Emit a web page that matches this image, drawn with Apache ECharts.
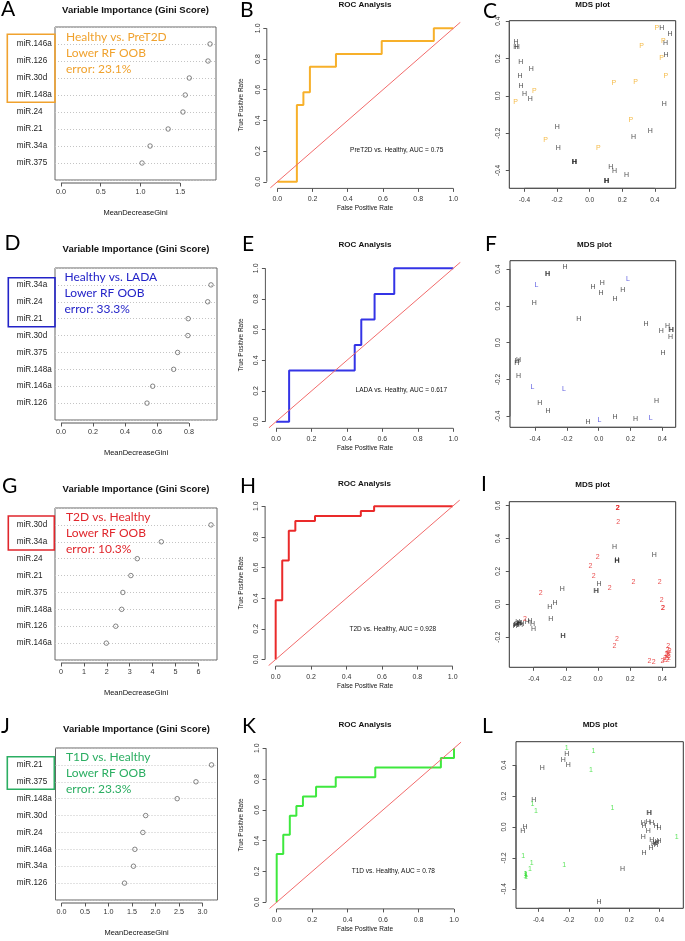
<!DOCTYPE html>
<html><head><meta charset="utf-8">
<script src="https://cdn.jsdelivr.net/npm/echarts@6/dist/echarts.min.js"></script>
<style>html,body{margin:0;padding:0;background:#fff}#c{width:685px;height:941px}</style>
</head><body><div id="c"></div>
<script>
// ================= DATA =================
// Variable importance (MeanDecreaseGini)
const giniA_labels = ['miR.146a','miR.126','miR.30d','miR.148a','miR.24','miR.21','miR.34a','miR.375'];
const giniA_values = [1.875,1.85,1.614,1.563,1.534,1.348,1.121,1.02];
const giniA_ticks  = [0,0.5,1.0,1.5];
const giniD_labels = ['miR.34a','miR.24','miR.21','miR.30d','miR.375','miR.148a','miR.146a','miR.126'];
const giniD_values = [0.9375,0.917,0.795,0.793,0.729,0.704,0.573,0.5375];
const giniD_ticks  = [0,0.2,0.4,0.6,0.8];
const giniG_labels = ['miR.30d','miR.34a','miR.24','miR.21','miR.375','miR.148a','miR.126','miR.146a'];
const giniG_values = [6.55,4.38,3.33,3.05,2.70,2.65,2.39,1.98];
const giniG_ticks  = [0,1,2,3,4,5,6];
const giniJ_labels = ['miR.21','miR.375','miR.148a','miR.30d','miR.24','miR.146a','miR.34a','miR.126'];
const giniJ_values = [3.19,2.86,2.46,1.79,1.73,1.56,1.53,1.34];
const giniJ_ticks  = [0,0.5,1.0,1.5,2.0,2.5,3.0];

// ROC curves (vertices)
const rocB_fpr = [0,0.111,0.111,0.148,0.148,0.185,0.185,0.333,0.333,0.593,0.593,0.889,0.889,1.0];
const rocB_tpr = [0,0,0.5,0.5,0.583,0.583,0.75,0.75,0.833,0.833,0.917,0.917,1.0,1.0];
const rocE_fpr = [0,0.074,0.074,0.444,0.444,0.481,0.481,0.556,0.556,0.667,0.667,1.0];
const rocE_tpr = [0,0,0.333,0.333,0.5,0.5,0.667,0.667,0.833,0.833,1.0,1.0];
const rocH_fpr = [0,0,0.037,0.037,0.074,0.074,0.111,0.111,0.222,0.222,0.481,0.481,0.556,0.556,1.0];
const rocH_tpr = [0,0.387,0.387,0.645,0.645,0.839,0.839,0.903,0.903,0.935,0.935,0.968,0.968,1.0,1.0];
const rocK_fpr = [0,0,0.037,0.037,0.074,0.074,0.111,0.111,0.148,0.148,0.222,0.222,0.333,0.333,0.556,0.556,0.926,0.926,1.0,1.0];
const rocK_tpr = [0,0.3125,0.3125,0.4375,0.4375,0.5625,0.5625,0.625,0.625,0.6875,0.6875,0.75,0.75,0.8125,0.8125,0.875,0.875,0.9375,0.9375,1.0];
const rocTicks = [0,0.2,0.4,0.6,0.8,1.0];
const rocRange = [-0.04,1.04];
const aucTexts = ['PreT2D vs. Healthy, AUC = 0.75','LADA vs. Healthy, AUC = 0.617','T2D vs. Healthy, AUC = 0.928','T1D vs. Healthy, AUC = 0.78'];

// MDS coordinates
const mdsC_Hx = [-0.452,-0.454,-0.444,-0.423,-0.358,-0.427,-0.421,-0.399,-0.364,-0.198,-0.192,-0.096,-0.090,0.129,0.153,0.102,0.106,0.227,0.270,0.372,0.458,0.442,0.493,0.466,0.468,-0.094,0.104];
const mdsC_Hy = [0.289,0.263,0.263,0.179,0.141,0.105,0.054,0.007,-0.018,-0.166,-0.279,-0.357,-0.355,-0.384,-0.405,-0.457,-0.457,-0.423,-0.223,-0.189,-0.045,0.366,0.330,0.284,0.218,-0.357,-0.457];
const mdsC_Px = [-0.339,-0.454,-0.270,0.053,0.252,0.149,0.282,0.319,0.413,0.452,0.442,0.468];
const mdsC_Py = [0.027,-0.032,-0.238,-0.282,-0.132,0.071,0.075,0.266,0.366,0.296,0.204,0.105];

const mdsF_Hx = [-0.212,-0.323,-0.319,-0.405,-0.036,0.023,0.015,0.151,0.103,-0.126,0.298,0.432,0.394,0.453,0.457,0.451,0.405,-0.505,-0.516,-0.505,-0.371,-0.319,-0.067,0.103,0.231,0.363,-0.512];
const mdsF_Hy = [0.410,0.372,0.372,0.216,0.305,0.327,0.272,0.285,0.238,0.131,0.100,0.093,0.065,0.069,0.069,0.033,-0.054,-0.094,-0.109,-0.180,-0.327,-0.372,-0.430,-0.406,-0.414,-0.319,-0.102];
const mdsF_Lx = [-0.392,0.184,-0.417,-0.218,0.004,0.327];
const mdsF_Ly = [0.312,0.346,-0.243,-0.254,-0.421,-0.408];

const mdsI_Tx = [0.120,0.124,0.122,0.126,-0.002,-0.048,-0.027,0.073,0.220,0.383,0.396,0.402,0.406,-0.356,-0.454,0.118,0.102,0.319,0.346,0.400,0.437,0.433,0.425,0.437,0.417,0.433,0.441,0.429,0.446,0.413,0.441];
const mdsI_Ty = [0.582,0.582,0.586,0.501,0.289,0.232,0.172,0.097,0.137,0.137,0.026,-0.024,-0.024,0.071,-0.091,-0.210,-0.257,-0.343,-0.349,-0.343,-0.253,-0.277,-0.303,-0.317,-0.327,-0.337,-0.297,-0.311,-0.285,-0.337,-0.327];
const mdsI_Hx = [0.102,0.350,0.116,0.120,0.118,0.006,-0.014,-0.010,-0.222,-0.267,-0.301,-0.294,-0.220,-0.216,-0.512,-0.508,-0.491,-0.487,-0.475,-0.423,-0.408,-0.402,-0.516,-0.500,-0.505,-0.482,-0.440];
const mdsI_Hy = [0.349,0.299,0.265,0.265,0.268,0.121,0.081,0.081,0.093,0.006,-0.016,-0.091,-0.196,-0.196,-0.129,-0.129,-0.115,-0.115,-0.121,-0.105,-0.119,-0.149,-0.135,-0.111,-0.123,-0.125,-0.107];

const mdsL_Ox = [-0.214,-0.037,-0.053,0.088,-0.441,-0.417,0.513,-0.502,-0.445,-0.456,-0.487,-0.483,-0.483,-0.231,-0.480,-0.489];
const mdsL_Oy = [0.509,0.494,0.369,0.125,0.147,0.106,-0.063,-0.188,-0.235,-0.274,-0.304,-0.304,-0.321,-0.248,-0.313,-0.315];
const mdsL_Hx = [-0.214,-0.236,-0.203,-0.375,-0.432,-0.489,-0.505,0.329,0.333,0.293,0.326,0.348,0.298,0.377,0.397,0.326,0.293,0.348,0.370,0.397,0.377,0.344,0.298,0.156,0.000,0.361,0.383];
const mdsL_Hy = [0.470,0.433,0.403,0.380,0.177,-0.002,-0.026,0.088,0.088,0.024,0.030,0.024,0.006,0.006,-0.009,-0.026,-0.067,-0.084,-0.106,-0.091,-0.119,-0.138,-0.166,-0.274,-0.487,-0.112,-0.100];
const mdsTicks = [-0.4,-0.2,0.0,0.2,0.4];
const mdsTicksI = [-0.2,0.0,0.2,0.4,0.6];

// ================= BUILD =================
const FONT = '"Liberation Sans", Arial, sans-serif';
const CAL = 'Lato, "Open Sans", sans-serif';
const option = {animation:false, backgroundColor:'#fff', grid:[], xAxis:[], yAxis:[], series:[], graphic:[]};

function addGrid(r, border, bc){
  option.grid.push({left:r[0], top:r[1], width:r[2], height:r[3], show:!!border, borderColor:bc||'#555', borderWidth:1, backgroundColor:'rgba(0,0,0,0)'});
  return option.grid.length-1;
}
function hiddenAxes(gi, xr, yr){
  option.xAxis.push({gridIndex:gi, type:'value', min:xr[0], max:xr[1], show:false});
  option.yAxis.push({gridIndex:gi, type:'value', min:yr[0], max:yr[1], show:false});
}
function tickCfg(ticks){return {show:true, customValues:ticks, length:3.5, lineStyle:{color:'#555', width:1}};}
function xStrip(r, off, range, ticks, fmt, fs, margin){
  const gi = addGrid([r[0], r[1]+r[3]+off-1, r[2], 1], false);
  option.xAxis.push({gridIndex:gi, type:'value', min:range[0], max:range[1], position:'bottom',
    axisLine:{show:false}, splitLine:{show:false}, axisTick:tickCfg(ticks),
    axisLabel:{show:true, customValues:ticks, formatter:fmt, fontSize:fs, margin:margin, color:'#333', fontFamily:FONT}});
  option.yAxis.push({gridIndex:gi, type:'value', min:0, max:1, show:false});
  option.series.push({type:'line', xAxisIndex:gi, yAxisIndex:gi, clip:false, silent:true, symbol:'none',
    lineStyle:{color:'#555', width:1}, data:[[ticks[0],0],[ticks[ticks.length-1],0]]});
}
function yStrip(r, off, range, ticks, fmt, fs, margin){
  const gi = addGrid([r[0]-off, r[1], 1, r[3]], false);
  option.xAxis.push({gridIndex:gi, type:'value', min:0, max:1, show:false});
  option.yAxis.push({gridIndex:gi, type:'value', min:range[0], max:range[1], position:'left',
    axisLine:{show:false}, splitLine:{show:false}, axisTick:tickCfg(ticks),
    axisLabel:{show:true, customValues:ticks, formatter:fmt, fontSize:fs, margin:margin, rotate:90, color:'#333', fontFamily:FONT}});
  option.series.push({type:'line', xAxisIndex:gi, yAxisIndex:gi, clip:false, silent:true, symbol:'none',
    lineStyle:{color:'#555', width:1}, data:[[0,ticks[0]],[0,ticks[ticks.length-1]]]});
}
function txt(x, y, text, o){
  o = o || {};
  option.graphic.push({type:'text', x:x, y:y, rotation:o.rot||0, silent:true, z:10,
    style:{text:text, fill:o.color||'#111', fontSize:o.fs||8, fontFamily:o.ff||FONT, fontWeight:o.fw||'normal',
      align:o.align||'center', verticalAlign:'middle', lineHeight:o.lh||undefined}});
}
function rect(x,y,w,h,color){
  option.graphic.push({type:'rect', silent:true, z:10, shape:{x:x,y:y,width:w,height:h},
    style:{fill:'none', stroke:color, lineWidth:1.6}});
}
const f1 = v => Number(v).toFixed(1);
const f0 = v => Number(v).toFixed(0);

// ---- dot charts ----
function dotPanel(p){
  const mx = Math.max.apply(null, p.values);
  const xr = [-0.04*mx, 1.04*mx];
  const n = p.labels.length;
  const gi = addGrid(p.rect, true, '#666');
  option.xAxis.push({gridIndex:gi, type:'value', min:xr[0], max:xr[1], show:false});
  option.yAxis.push({gridIndex:gi, type:'value', min:0, max:n+1, interval:1,
    axisLine:{show:false}, axisTick:{show:false},
    axisLabel:{align:'left', margin:p.rect[0]-16.7, fontSize:8.2, color:'#222', fontFamily:FONT,
      formatter:v => (v>=1 && v<=n) ? p.labels[n-v] : ''},
    splitLine:{show:true, lineStyle:{type:[1,2], color:'#c4c4c4', width:1}}});
  option.series.push({type:'scatter', xAxisIndex:gi, yAxisIndex:gi, silent:true, symbol:'circle', symbolSize:4.5,
    itemStyle:{color:'rgba(0,0,0,0)', borderColor:'#444', borderWidth:0.8},
    data:p.values.map((v,i)=>[v, n-i])});
  xStrip(p.rect, 3, xr, p.ticks, p.fmt, 7.2, 5.5);
  const cx = p.rect[0] + p.rect[2]/2;
  txt(cx, p.titleY, 'Variable Importance (Gini Score)', {fs:9.5, fw:'bold'});
  txt(cx, p.rect[1]+p.rect[3]+33, 'MeanDecreaseGini', {fs:7.5});
  rect(p.box[0], p.box[1], p.box[2], p.box[3], p.color);
  txt(p.noteX, p.noteY, p.note, {fs:12, ff:CAL, color:p.color, align:'left', lh:16});
}
dotPanel({rect:[55,27,161,153], labels:giniA_labels, values:giniA_values, ticks:giniA_ticks, fmt:f1, titleY:10,
  box:[7.3,34.3,47.7,68], color:'#f0a22e', noteX:66, noteY:52.7, note:'Healthy vs. PreT2D\nLower RF OOB\nerror: 23.1%'});
dotPanel({rect:[55,268,162,152], labels:giniD_labels, values:giniD_values, ticks:giniD_ticks, fmt:f1, titleY:249,
  box:[8.3,277.7,46.7,49], color:'#2323c8', noteX:64.5, noteY:293.3, note:'Healthy vs. LADA\nLower RF OOB\nerror: 33.3%'});
dotPanel({rect:[55,508,162,152], labels:giniG_labels, values:giniG_values, ticks:giniG_ticks, fmt:f0, titleY:489,
  box:[8.3,516,46,34], color:'#e0262c', noteX:66, noteY:533.3, note:'T2D vs. Healthy\nLower RF OOB\nerror: 10.3%'});
dotPanel({rect:[55.5,748,162,152], labels:giniJ_labels, values:giniJ_values, ticks:giniJ_ticks, fmt:f1, titleY:729,
  box:[7.3,756.7,47,32.6], color:'#2bae62', noteX:66, noteY:773.3, note:'T1D vs. Healthy\nLower RF OOB\nerror: 23.3%'});

// ---- ROC ----
function rocPanel(p){
  const gi = addGrid(p.rect, false);
  hiddenAxes(gi, rocRange, rocRange);
  option.series.push({type:'line', xAxisIndex:gi, yAxisIndex:gi, silent:true, symbol:'none',
    lineStyle:{color:p.color, width:2}, data:p.fpr.map((f,i)=>[f, p.tpr[i]])});
  option.series.push({type:'line', xAxisIndex:gi, yAxisIndex:gi, silent:true, symbol:'none',
    lineStyle:{color:'#f26b6b', width:1}, data:[[rocRange[0],rocRange[0]],[rocRange[1],rocRange[1]]]});
  xStrip(p.rect, 0.5, rocRange, rocTicks, f1, 7, 7.5);
  yStrip(p.rect, 3.5, rocRange, rocTicks, f1, 7, 5.5);
  txt(p.titleX, p.titleY, 'ROC Analysis', {fs:8, fw:'bold'});
  txt(p.auc[0], p.auc[1], p.aucText, {fs:6.5});
  txt(365, p.rect[1]+p.rect[3]+20.5, 'False Positive Rate', {fs:6.5});
  txt(241.5, p.tprY, 'True Positive Rate', {fs:6.5, rot:Math.PI/2});
}
rocPanel({rect:[270.3,22.2,190.1,165.7], fpr:rocB_fpr, tpr:rocB_tpr, color:'#f7b02a', titleX:365, titleY:5, auc:[396.7,150], aucText:aucTexts[0], tprY:105});
rocPanel({rect:[268.9,262.2,191.5,165.6], fpr:rocE_fpr, tpr:rocE_tpr, color:'#3434e6', titleX:365, titleY:245, auc:[401.3,390.7], aucText:aucTexts[1], tprY:345});
rocPanel({rect:[268.6,500,191.2,165.6], fpr:rocH_fpr, tpr:rocH_tpr, color:'#ea2a2a', titleX:364.5, titleY:484, auc:[392.8,629], aucText:aucTexts[2], tprY:583});
rocPanel({rect:[269.6,742.1,191.5,166.3], fpr:rocK_fpr, tpr:rocK_tpr, color:'#3ee83e', titleX:365, titleY:725, auc:[393.3,871.7], aucText:aucTexts[3], tprY:825});

// ---- MDS ----
function mdsPanel(p){
  const gi = addGrid(p.rect, true, '#333');
  hiddenAxes(gi, p.xr, p.yr);
  p.groups.forEach(g => {
    option.series.push({type:'scatter', xAxisIndex:gi, yAxisIndex:gi, silent:true, symbol:'circle', symbolSize:2,
      itemStyle:{color:'rgba(0,0,0,0)'},
      label:{show:true, position:'inside', formatter:g.lab, color:g.color, fontSize:7, fontFamily:FONT},
      data:g.x.map((x,i)=>[x, g.y[i]])});
  });
  xStrip(p.rect, 0, p.xr, p.xt, f1, 6.5, 8);
  yStrip(p.rect, 0, p.yr, p.yt, f1, 6.5, 8);
  txt(p.titleX, p.titleY, 'MDS plot', {fs:8, fw:'bold'});
}
mdsPanel({rect:[509.3,20.7,166.4,167.6], xr:[-0.493,0.528], yr:[-0.496,0.403], xt:mdsTicks, yt:mdsTicks, titleX:592.7, titleY:5,
  groups:[{x:mdsC_Hx,y:mdsC_Hy,lab:'H',color:'#222'},{x:mdsC_Px,y:mdsC_Py,lab:'P',color:'#f2aa1c'}]});
mdsPanel({rect:[510,260.7,165.7,166.6], xr:[-0.558,0.484], yr:[-0.460,0.446], xt:mdsTicks, yt:mdsTicks, titleX:594.3, titleY:245,
  groups:[{x:mdsF_Hx,y:mdsF_Hy,lab:'H',color:'#222'},{x:mdsF_Lx,y:mdsF_Ly,lab:'L',color:'#3535d8'}]});
mdsPanel({rect:[509.3,501.7,166.4,165.6], xr:[-0.552,0.483], yr:[-0.383,0.623], xt:mdsTicks, yt:mdsTicksI, titleX:592.7, titleY:485,
  groups:[{x:mdsI_Hx,y:mdsI_Hy,lab:'H',color:'#222'},{x:mdsI_Tx,y:mdsI_Ty,lab:'2',color:'#e52222'}]});
mdsPanel({rect:[516,741.7,167.3,166.6], xr:[-0.549,0.557], yr:[-0.526,0.552], xt:mdsTicks, yt:mdsTicks, titleX:600, titleY:725,
  groups:[{x:mdsL_Hx,y:mdsL_Hy,lab:'H',color:'#222'},{x:mdsL_Ox,y:mdsL_Oy,lab:'1',color:'#33dd33'}]});

// ---- panel letters ----
const letters = [['A',1,9.5],['B',240,10],['C',483,11],['D',4.5,243.5],['E',242,244.5],['F',485,244],
                 ['G',2,486.5],['H',240,486.5],['I',481,484],['J',1,726.5],['K',242,726.5],['L',482,726.5]];
letters.forEach(l => txt(l[1], l[2], l[0], {fs:21, ff:CAL, color:'#000', align:'left'}));

const chart = echarts.init(document.getElementById('c'), null, {renderer:'canvas'});
chart.setOption(option);
</script>
</body></html>
